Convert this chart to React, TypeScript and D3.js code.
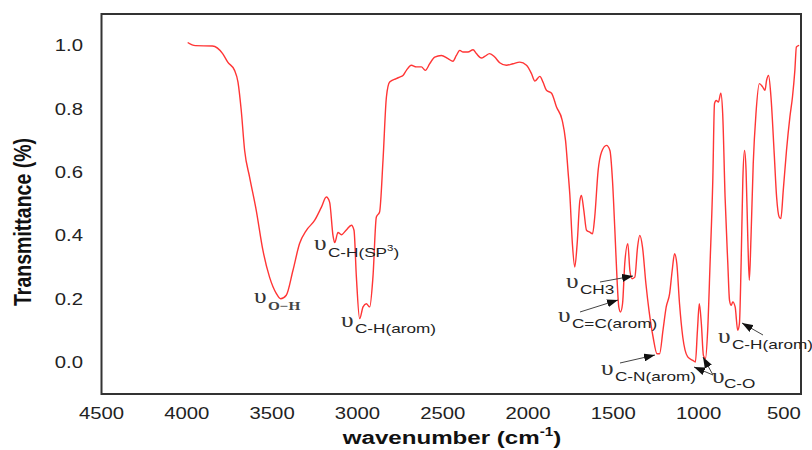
import React from "react";
import * as d3 from "d3";

const wavenumbers = [
  3995, 3950, 3850, 3790, 3760, 3720, 3700, 3681, 3661, 3632, 3593, 3554, 3515, 3475, 3450, 3417, 3378, 3339, 3299, 3251,
  3211, 3182, 3163, 3143, 3133, 3114, 3094, 3065, 3035, 3020, 3006, 2987, 2967, 2948, 2928, 2909, 2889, 2870, 2850, 2830,
  2811, 2772, 2752, 2733, 2713, 2684, 2655, 2625, 2602, 2576, 2547, 2508, 2469, 2440, 2420, 2400, 2381, 2352, 2322, 2303,
  2273, 2254, 2225, 2195, 2166, 2127, 2088, 2048, 2009, 1980, 1960, 1931, 1912, 1892, 1862, 1833, 1800, 1780, 1765, 1755,
  1740, 1726, 1712, 1696, 1687, 1673, 1657, 1638, 1622, 1609, 1589, 1569, 1540, 1520, 1505, 1491, 1478, 1468, 1458, 1446,
  1433, 1415, 1403, 1390, 1374, 1358, 1345, 1329, 1309, 1291, 1267, 1244, 1229, 1209, 1190, 1170, 1155, 1141, 1128, 1112,
  1093, 1064, 1034, 1019, 1007, 996, 984, 972, 960, 947, 933, 917, 907, 897, 884, 870, 859, 845, 829, 819,
  809, 800, 786, 771, 761, 751, 741, 731, 722, 712, 703, 693, 680, 664, 644, 625, 611, 602, 590, 576,
  557, 543, 528, 518, 504, 485, 465, 450, 436, 427, 411,
];

const transmittance = [
  1.01, 1.0, 0.999, 0.975, 0.948, 0.922, 0.885, 0.796, 0.669, 0.585, 0.48, 0.354, 0.269, 0.217, 0.201, 0.212, 0.29, 0.375, 0.417, 0.448,
  0.49, 0.522, 0.506, 0.4, 0.378, 0.41, 0.403, 0.418, 0.433, 0.417, 0.269, 0.138, 0.175, 0.185, 0.175, 0.269, 0.459, 0.475, 0.638, 0.838,
  0.885, 0.896, 0.901, 0.906, 0.922, 0.938, 0.933, 0.933, 0.922, 0.943, 0.964, 0.969, 0.959, 0.951, 0.969, 0.985, 0.98, 0.98, 0.987, 0.975,
  0.961, 0.966, 0.975, 0.964, 0.946, 0.938, 0.943, 0.948, 0.938, 0.912, 0.888, 0.903, 0.885, 0.859, 0.85, 0.806, 0.765, 0.7, 0.6, 0.53,
  0.375, 0.301, 0.375, 0.511, 0.527, 0.48, 0.417, 0.411, 0.406, 0.459, 0.606, 0.664, 0.685, 0.669, 0.575, 0.417, 0.259, 0.175, 0.159, 0.185,
  0.312, 0.375, 0.29, 0.264, 0.269, 0.364, 0.401, 0.364, 0.248, 0.164, 0.08, 0.027, 0.027, 0.101, 0.175, 0.217, 0.29, 0.343, 0.312, 0.185,
  0.08, 0.017, 0.006, 0.001, 0.101, 0.185, 0.122, 0.022, 0.012, 0.101, 0.312, 0.575, 0.817, 0.827, 0.822, 0.85, 0.785, 0.522, 0.312, 0.196,
  0.18, 0.191, 0.175, 0.101, 0.122, 0.312, 0.575, 0.669, 0.606, 0.396, 0.259, 0.396, 0.627, 0.785, 0.88, 0.87, 0.859, 0.89, 0.906, 0.838,
  0.659, 0.522, 0.459, 0.454, 0.543, 0.669, 0.775, 0.838, 0.922, 0.996, 1.001,
];

const xTicks = [4500, 4000, 3500, 3000, 2500, 2000, 1500, 1000, 500];
const yTicks = [0.0, 0.2, 0.4, 0.6, 0.8, 1.0];

const xTitle = "wavenumber (cm";
const yTitle = "Transmittance (%)";

// annotation labels (subscript text) - layout kept separately below
const labelSubs = ["O−H", "C-H(SP", "C-H(arom)", "CH3", "C=C(arom)", "C-N(arom)", "C-O", "C-H(arom)"];

const W = 812;
const H = 450;
const SX = 1.27; // horizontal text stretch of the original figure

function SText(props: {
  x: number;
  y: number;
  size: number;
  children: React.ReactNode;
  anchor?: string;
  weight?: string | number;
  family?: string;
  fill?: string;
  rotate?: number;
  length?: number;
}) {
  const { x, y, size, children, anchor = "start", weight = "normal", family = "'Liberation Sans', Arial, sans-serif", fill = "#222", rotate, length } = props;
  return (
    <g transform={`translate(${x},${y}) scale(${SX},1)${rotate !== undefined ? ` rotate(${rotate})` : ""}`}>
      <text
        x={0}
        y={0}
        fontSize={size}
        fontFamily={family}
        fontWeight={weight}
        textAnchor={anchor}
        fill={fill}
        {...(length ? { textLength: length, lengthAdjust: "spacingAndGlyphs" } : {})}
      >
        {children}
      </text>
    </g>
  );
}

export default function App() {
  const x = d3.scaleLinear().domain([4500, 400]).range([101.5, 801]);
  const y = d3.scaleLinear().domain([-0.1, 1.1]).range([394, 14]);

  const data = wavenumbers.map((w, i) => [w, transmittance[i]] as [number, number]);
  const line = d3
    .line<[number, number]>()
    .x((d) => x(d[0]))
    .y((d) => y(d[1]))
    .curve(d3.curveMonotoneX);

  // annotation layout: upsilon position, subscript position
  const ann = [
    { ux: 254, uy: 303, sx: 268, sy: 309.5, serif: true },
    { ux: 314, uy: 250, sx: 328, sy: 257 },
    { ux: 341, uy: 327, sx: 355, sy: 333 },
    { ux: 566, uy: 288, sx: 580, sy: 293.5 },
    { ux: 558, uy: 322, sx: 572, sy: 327.5 },
    { ux: 601, uy: 375, sx: 615, sy: 380.5 },
    { ux: 712, uy: 383, sx: 724, sy: 388 },
    { ux: 718, uy: 343, sx: 732, sy: 348.5 },
  ];

  const arrows = [
    [600, 282, 633, 276],
    [580, 312, 618, 300],
    [620, 363, 655, 355],
    [713, 375, 703, 357],
    [713, 375, 694, 367],
    [763, 335, 742, 323],
  ];

  const serifFam = "'Liberation Serif', 'Times New Roman', serif";

  return (
    <svg width={W} height={H} style={{ position: "absolute", left: 0, top: 0, background: "#fff" }}>
      <defs>
        <marker id="ah" markerUnits="userSpaceOnUse" markerWidth={11} markerHeight={8} refX={11} refY={4} orient="auto">
          <path d="M0,0 L11,4 L0,8 Z" fill="#111" />
        </marker>
      </defs>
      <rect x={0} y={0} width={W} height={H} fill="#fff" />

      <path d={line(data) || ""} fill="none" stroke="#ff3535" strokeWidth={1.4} />

      <rect x={101.5} y={14} width={699.5} height={380} fill="none" stroke="#333" strokeWidth={2} />

      {yTicks.map((t) => (
        <SText key={t} x={83} y={y(t) + 5.8} size={16} anchor="end">
          {t.toFixed(1)}
        </SText>
      ))}
      {xTicks.map((t) => (
        <SText key={t} x={x(t)} y={419} size={16} anchor="middle">
          {t}
        </SText>
      ))}

      <SText x={452} y={444} size={19} anchor="middle" weight="bold" fill="#111">
        {xTitle}
        <tspan fontSize={12} dy={-8}>-1</tspan>
        <tspan dy={8}>)</tspan>
      </SText>
      <SText x={31} y={222} size={19} anchor="middle" weight="bold" fill="#111" rotate={-90} length={168}>
        {yTitle}
      </SText>

      {arrows.map((a, i) => (
        <line key={i} x1={a[0]} y1={a[1]} x2={a[2]} y2={a[3]} stroke="#444" strokeWidth={1} markerEnd="url(#ah)" />
      ))}

      {ann.map((a, i) => (
        <g key={i}>
          <SText x={a.ux} y={a.uy} size={20} family={serifFam} fill="#333">
            υ
          </SText>
          {a.serif ? (
            <SText x={a.sx} y={a.sy} size={12} family={serifFam} fill="#444" weight="bold">
              {labelSubs[i]}
            </SText>
          ) : (
            <SText x={a.sx} y={a.sy} size={13.5} fill="#222">
              {labelSubs[i]}
              {i === 1 ? (
                <>
                  <tspan fontSize={9} dy={-6}>3</tspan>
                  <tspan dy={6}>)</tspan>
                </>
              ) : null}
            </SText>
          )}
        </g>
      ))}
    </svg>
  );
}
